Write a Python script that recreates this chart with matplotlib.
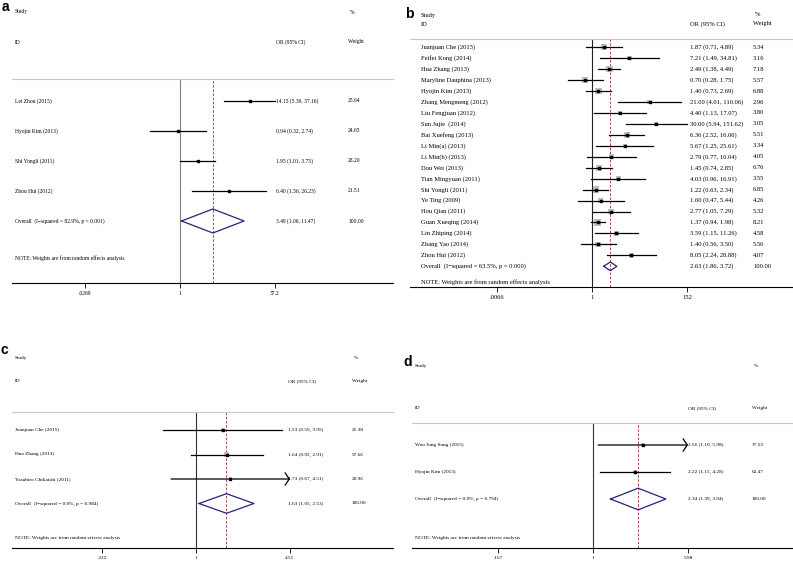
import numpy as np
import matplotlib
matplotlib.use('Agg')
import matplotlib.pyplot as plt
import matplotlib.transforms as mtransforms
from matplotlib.ticker import NullLocator

plt.rcParams['font.family'] = ['Liberation Serif', 'DejaVu Serif']

# ---- panel a ----
study_a = ["Lei Zhou (2015)", "Hyojin Kim (2013)", "Shi Yongli (2011)", "Zhou Hui (2012)"]
or_a = [14.15, 0.94, 1.95, 6.40]
lo_a = [5.39, 0.32, 1.01, 1.56]
hi_a = [37.16, 2.74, 3.75, 26.23]
w_a = [25.64, 24.65, 28.20, 21.51]
overall_a = [3.49, 1.06, 11.47]
het_a = "Overall  (I\u2212squared = 82.9%, p = 0.001)"
ticks_a = [0.0269, 1, 37.2]
ticklab_a = [".0269", "1", "37.2"]

# ---- panel b ----
study_b = ["Juanjuan Che (2015)", "Feifei Kong (2014)", "Hua Zhang (2013)",
           "Maryline Dauphina (2013)", "Hyojin Kim (2013)", "Zhang Mengmeng (2012)",
           "Liu Fengjuan (2012)", "Sun Jujie  (2014)", "Bai Xuefeng (2013)",
           "Li Min(a) (2013)", "Li Min(b) (2013)", "Dou Wei (2013)",
           "Tian Mingyuan (2011)", "Shi Yongli (2011)", "Ye Ting (2009)",
           "Hou Qian (2011)", "Guan Xueqing (2014)", "Lin Zhiping (2014)",
           "Zhang Yao (2014)", "Zhou Hui (2012)"]
or_b = [1.87, 7.21, 2.49, 0.70, 1.40, 21.00, 4.40, 30.00, 6.36, 5.67,
        2.79, 1.45, 4.03, 1.22, 1.60, 2.77, 1.37, 3.59, 1.40, 8.05]
lo_b = [0.71, 1.49, 1.38, 0.28, 0.73, 4.01, 1.13, 5.94, 2.52, 1.25,
        0.77, 0.74, 0.96, 0.63, 0.47, 1.05, 0.94, 1.15, 0.56, 2.24]
hi_b = [4.89, 34.81, 4.49, 1.75, 2.69, 110.06, 17.07, 151.62, 16.06, 25.61,
        10.04, 2.85, 16.91, 2.34, 5.44, 7.29, 1.98, 11.26, 3.50, 28.88]
w_b = [5.34, 3.16, 7.18, 5.57, 6.88, 2.96, 3.80, 3.05, 5.51, 3.34,
       4.05, 6.76, 3.55, 6.85, 4.26, 5.32, 8.21, 4.58, 5.56, 4.07]
overall_b = [2.63, 1.86, 3.72]
het_b = "Overall  (I\u2212squared = 63.5%, p = 0.000)"
ticks_b = [0.0066, 1, 152]
ticklab_b = [".0066", "1", "152"]

# ---- panel c ----
study_c = ["Juanjuan Che (2015)", "Hua Zhang (2013)", "Yasuhiro Chikaishi (2011)"]
or_c = [1.53, 1.64, 1.73]
lo_c = [0.59, 0.92, 0.67]
hi_c = [3.95, 2.91, 4.51]
w_c = [21.38, 57.66, 20.96]
overall_c = [1.63, 1.05, 2.53]
het_c = "Overall  (I\u2212squared = 0.0%, p = 0.984)"
ticks_c = [0.222, 1, 4.51]
ticklab_c = [".222", "1", "4.51"]

# ---- panel d ----
study_d = ["Woo Jung Sung (2015)", "Hyojin Kim (2013)"]
or_d = [2.56, 2.22]
lo_d = [1.10, 1.15]
hi_d = [5.98, 4.28]
w_d = [37.53, 62.47]
overall_d = [2.34, 1.39, 3.94]
het_d = "Overall  (I\u2212squared = 0.0%, p = 0.794)"
ticks_d = [0.167, 1, 5.98]
ticklab_d = [".167", "1", "5.98"]

note = "NOTE: Weights are from random effects analysis"

W, H = 793, 561
fig = plt.figure(figsize=(W / 100, H / 100), dpi=100)
navy = '#24247c'
red = '#9c2a2a'


def forest(geo, names, est, lo, hi, w, overall, het, ticks, ticklabs, fs, box_k, vcol):
    # geo holds the pixel layout of one panel
    L, R, T, B = geo['L'], geo['R'], geo['T'], geo['B']
    y0, step = geo['y0'], geo['step']
    ax = fig.add_axes([L / W, 1 - B / H, (R - L) / W, (B - T) / H])
    ax.set_xscale('log')
    ppl = (geo['pmax'] - geo['p1']) / np.log(ticks[-1])
    ax.set_xlim(np.exp((L - geo['p1']) / ppl), np.exp((R - geo['p1']) / ppl))
    ax.set_ylim((B - y0) / step, (T - y0) / step)
    n = len(names)
    rows = np.arange(n)

    ax.axvline(1, color=vcol, lw=0.8, zorder=1)
    ax.axvline(overall[0], color=red, lw=0.6, ls=(0, (3, 2)), zorder=1)

    # weight boxes
    sizes = (box_k * np.sqrt(w) * 0.72) ** 2
    ax.scatter(est, rows, marker='s', s=sizes, color='#bdbdbd', lw=0, zorder=2)
    for i in range(n):
        if hi[i] >= ticks[-1]:
            ax.annotate('', xy=(hi[i], i), xytext=(lo[i], i),
                        arrowprops=dict(arrowstyle='->,head_length=0.3,head_width=0.45',
                                        color='k', lw=0.9, shrinkA=0, shrinkB=0), zorder=3)
        else:
            ax.plot([lo[i], hi[i]], [i, i], color='k', lw=0.9, zorder=3)
    ax.plot(est, rows, 's', color='k', ms=2, zorder=4)

    # overall diamond
    h = 0.4
    ax.plot([overall[1], overall[0], overall[2], overall[0], overall[1]],
            [n, n - h, n, n + h, n], color=navy, lw=0.9, zorder=4)

    tr = mtransforms.blended_transform_factory(ax.transAxes, ax.transData)
    fx = lambda px: (px - L) / (R - L)
    fy = lambda py: (py - y0) / step
    kw = dict(transform=tr, fontsize=fs, va='center', ha='left', clip_on=False)
    ax.text(fx(geo['xs']), fy(geo['ys']), "Study", **kw)
    ax.text(fx(geo['xs']), fy(geo['yid']), "ID", **kw)
    ax.text(fx(geo['xci']), fy(geo['yid']), "OR (95% CI)", **kw)
    ax.text(fx(geo['xw'] + 2), fy(geo['ys']), "%", **kw)
    ax.text(fx(geo['xw']), fy(geo['yid']), "Weight", **kw)
    for i in range(n):
        ax.text(fx(geo['xs']), i, names[i], **kw)
        ax.text(fx(geo['xci']), i, "%.2f (%.2f, %.2f)" % (est[i], lo[i], hi[i]), **kw)
        ax.text(fx(geo['xw']), i, "%.2f" % w[i], **kw)
    ax.text(fx(geo['xs']), n, het, **kw)
    ax.text(fx(geo['xci']), n, "%.2f (%.2f, %.2f)" % tuple(overall), **kw)
    ax.text(fx(geo['xw']), n, "100.00", **kw)
    ax.text(fx(geo['xs']), fy(geo['ynote']), note, **kw)

    for s in ['left', 'right']:
        ax.spines[s].set_visible(False)
    ax.spines['top'].set_color('#c8c8c8')
    ax.spines['top'].set_linewidth(0.8)
    ax.spines['bottom'].set_linewidth(0.8)
    ax.set_yticks([])
    ax.set_xticks(ticks)
    ax.set_xticklabels(ticklabs)
    ax.xaxis.set_minor_locator(NullLocator())
    ax.tick_params(axis='x', direction='out', length=3.5, width=0.6, labelsize=fs, pad=2.0)
    return ax


forest(dict(L=12, R=393, T=79, B=283, y0=101, step=30, p1=180, pmax=275,
            xs=15, xci=276, xw=348, ys=12, yid=42, ynote=258),
       study_a, or_a, lo_a, hi_a, w_a, overall_a, het_a, ticks_a, ticklab_a,
       4.0, 0.4, '#808080')
forest(dict(L=410, R=793, T=39, B=287, y0=47.3, step=10.95, p1=592, pmax=687,
            xs=421, xci=690, xw=753, ys=15, yid=24, ynote=282),
       study_b, or_b, lo_b, hi_b, w_b, overall_b, het_b, ticks_b, ticklab_b,
       4.7, 2.44, '#222222')
forest(dict(L=12, R=393, T=412, B=548, y0=430, step=24.5, p1=196, pmax=290,
            xs=15, xci=288, xw=352, ys=358, yid=381, ynote=538),
       study_c, or_c, lo_c, hi_c, w_c, overall_c, het_c, ticks_c, ticklab_c,
       3.8, 0.66, '#333333')
forest(dict(L=412, R=793, T=423, B=548, y0=445, step=27, p1=593, pmax=688,
            xs=415, xci=688, xw=752, ys=366, yid=408, ynote=538),
       study_d, or_d, lo_d, hi_d, w_d, overall_d, het_d, ticks_d, ticklab_d,
       3.8, 0.5, '#333333')

# panel letters
for lab, px, py in [('a', 5, 7), ('b', 409, 14), ('c', 4, 350), ('d', 408, 362)]:
    fig.text(px / W, 1 - py / H, lab, fontsize=10, fontweight='bold',
             family='Liberation Sans', ha='center', va='center')

fig.savefig('out.png', dpi=100)
